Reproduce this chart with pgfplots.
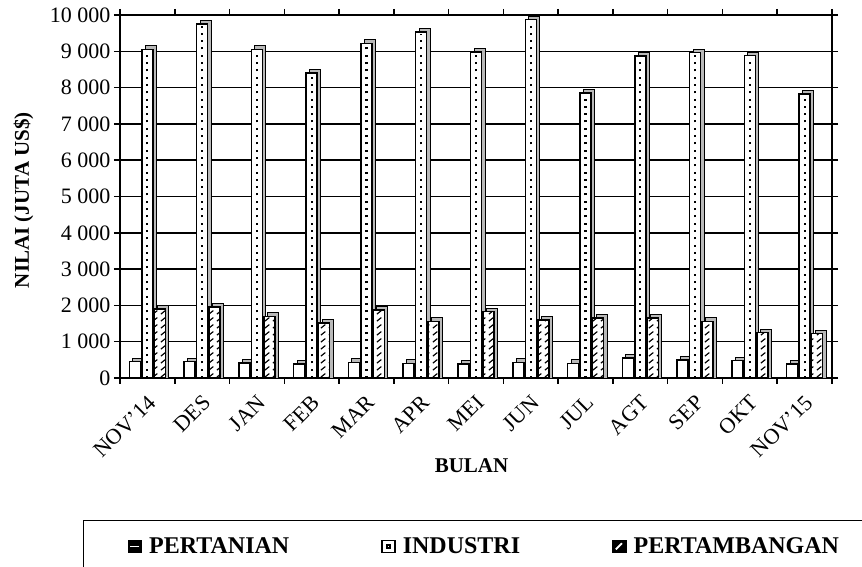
\documentclass[border=0pt]{standalone}
\usepackage{fontspec}
\setmainfont{Liberation Serif}
\usepackage{pgfplots}
\pgfplotsset{compat=1.18}
\usepackage{pgfplotstable}
\usetikzlibrary{patterns}

\pgfdeclarepatternformonly{zz}{\pgfpointorigin}{\pgfqpoint{8pt}{7pt}}{\pgfqpoint{8pt}{7pt}}{%
  \pgfsetlinewidth{1.3pt}%
  \pgfpathmoveto{\pgfqpoint{1pt}{1pt}}%
  \pgfpathlineto{\pgfqpoint{6pt}{5pt}}%
  \pgfusepath{stroke}}

\pgfplotstableread{
x pert ind tamb
0 450 9050 1900
1 450 9750 1960
2 420 9050 1700
3 380 8400 1520
4 430 9220 1870
5 400 9530 1560
6 390 8980 1830
7 430 9870 1600
8 400 7850 1650
9 550 8870 1650
10 500 8960 1560
11 480 8880 1250
12 390 7820 1220
}\data

\begin{document}
\begin{tikzpicture}
\useasboundingbox (-120pt,-189pt) rectangle (742pt,378pt);
\begin{axis}[
  at={(0pt,0pt)}, anchor=south west,
  scale only axis, width=712pt, height=363pt,
  xmin=-0.5, xmax=12.5, ymin=0, ymax=10000,
  ybar, bar width=11pt,
  xtick={0,...,12},
  xticklabels={NOV'14,DES,JAN,FEB,MAR,APR,MEI,JUN,JUL,AGT,SEP,OKT,NOV'15},
  major x tick style={draw=none},
  minor xtick={-0.5,0.5,...,12.5},
  minor tick length=6pt, major tick length=6pt,
  tick align=outside,
  every tick/.style={black, line width=1.5pt},
  xticklabel style={rotate=45, anchor=north east, font=\fontsize{22}{26}\selectfont, xshift=-4pt, yshift=-3pt},
  ytick={0,1000,...,10000},
  yticklabel style={font=\fontsize{22}{26}\selectfont},
  /pgf/number format/.cd, 1000 sep={\ }, assume math mode=true, /pgfplots/.cd,
  scaled y ticks=false,
  ymajorgrids, grid style={black, line width=1.5pt},
  axis line style={line width=1.5pt},
  xlabel={BULAN}, ylabel={NILAI (JUTA US\$)},
  every axis x label/.style={at={(axis description cs:0.4937,-0.242)}, anchor=center, font=\fontsize{21}{25}\bfseries},
  every axis y label/.style={at={(axis description cs:-0.1355,0.49)}, rotate=90, anchor=center, font=\fontsize{21}{25}\bfseries},
  legend style={at={(axis description cs:-0.052,-0.391)}, anchor=north west, draw=black, line width=1.5pt,
    font=\fontsize{24}{28}\selectfont\bfseries, inner xsep=44pt, inner ysep=15pt,
    /tikz/every even column/.append style={column sep=90pt},
    /tikz/every odd column/.append style={column sep=5pt}},
  legend columns=3,
]
% shadows (3D sides)
\addplot[forget plot, bar shift=-9pt, fill=gray!55, draw=black, line width=1pt] table[x=x, y expr=\thisrow{pert}+96] {\data};
\addplot[forget plot, bar shift=3.5pt, fill=gray!55, draw=black, line width=1pt] table[x=x, y expr=\thisrow{ind}+96] {\data};
\addplot[forget plot, bar shift=16pt, fill=gray!55, draw=black, line width=1pt] table[x=x, y expr=\thisrow{tamb}+96] {\data};
% fronts
\addplot[bar shift=-12.5pt, fill=white, draw=black, line width=1.5pt,
  legend image code/.code={\draw[line width=1.5pt, fill=black] (0pt,-6pt) rectangle (13pt,6pt); \draw[white, line width=1.5pt] (2pt,0pt) -- (11pt,0pt);}]
  table[x=x, y=pert] {\data};
\addplot[bar shift=0pt, fill=white, draw=black, line width=1.5pt,
  legend image code/.code={\draw[line width=1.5pt, fill=white] (0pt,-6pt) rectangle (13pt,6pt); \fill (5pt,-1.5pt) rectangle (8pt,1.5pt);}]
  table[x=x, y=ind] {\data};
\addplot[bar shift=12.5pt, fill=white, draw=black, line width=1.5pt, postaction={pattern=zz},
  legend image code/.code={\draw[line width=1.5pt, fill=black] (0pt,-6pt) rectangle (13pt,6pt); \draw[white, line width=1.5pt] (3pt,-3pt) -- (9pt,3pt);}]
  table[x=x, y=tamb] {\data};
% dotted centre line of INDUSTRI bars
\addplot[forget plot, ycomb, draw=black, line width=2.2pt, dash pattern=on 2pt off 5.3pt, mark=none] table[x=x, y expr=\thisrow{ind}-60] {\data};
\legend{PERTANIAN, INDUSTRI, PERTAMBANGAN}
\end{axis}
\end{tikzpicture}
\end{document}
